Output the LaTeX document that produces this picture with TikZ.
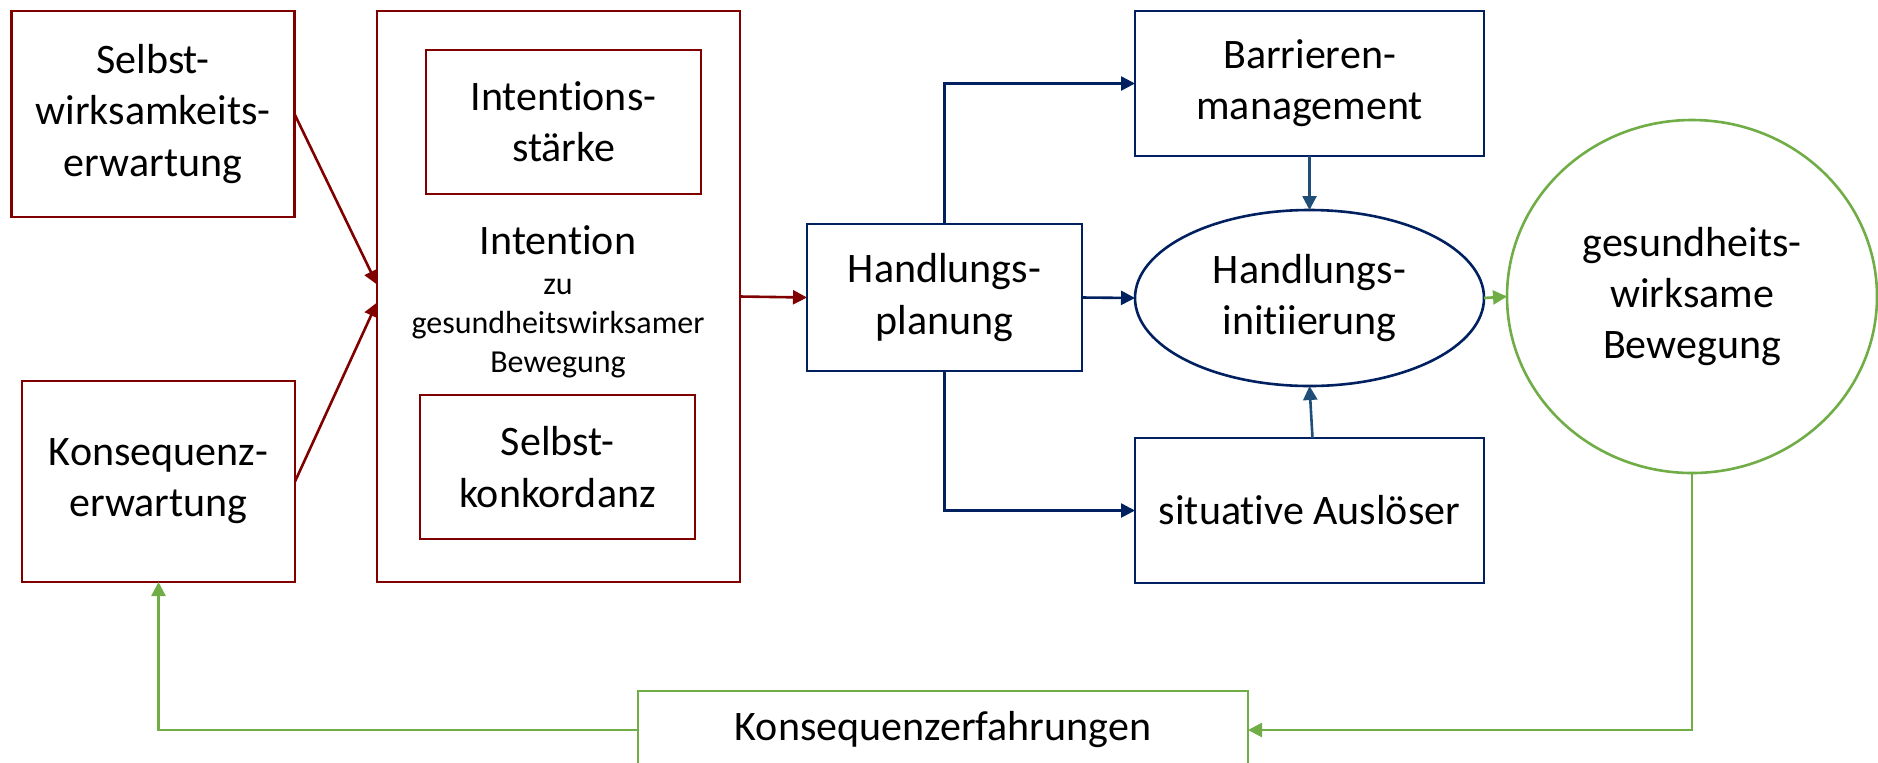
\documentclass[tikz,border=0pt]{standalone}
\usepackage{fontspec}
\setmainfont{Carlito}[Ligatures=NoCommon]
\usetikzlibrary{arrows.meta,shapes.geometric}
\definecolor{dred}{RGB}{128,0,0}
\definecolor{navy}{RGB}{0,32,96}
\definecolor{steel}{RGB}{31,78,121}
\definecolor{grn}{RGB}{112,173,71}
\tikzset{
  box/.style={draw, rectangle, line width=1.3pt, inner sep=0pt, outer sep=0pt, align=center,
    font=\fontsize{21}{25.6}\selectfont},
  redbox/.style={box, draw=dred},
  bluebox/.style={box, draw=navy},
  arr/.style={line width=1.3pt, -{Triangle[length=7pt,width=7pt]}},
  redarr/.style={arr, draw=dred},
  bluearr/.style={arr, draw=navy},
  steelarr/.style={arr, draw=steel},
  grnarr/.style={arr, draw=grn},
}
\begin{document}
\begin{tikzpicture}[x=0.5pt,y=-0.5pt]
\useasboundingbox (0,0) rectangle (1878,762);
% left column
\node[redbox, minimum width=141.5pt, minimum height=103pt] (A) at (153,114) {Selbst-\\wirksamkeits-\\erwartung};
\node[redbox, minimum width=136.5pt, minimum height=100.5pt] (B) at (158.5,481.5) {Konsequenz-\\erwartung};
% intention block
\node[redbox, minimum width=181.5pt, minimum height=285.5pt] (big) at (558.5,296.5) {};
\node[redbox, minimum width=137.5pt, minimum height=72pt] (IS) at (563.5,122) {Intentions-\\stärke};
\node[redbox, minimum width=137.5pt, minimum height=72pt] (SK) at (557.5,467) {Selbst-\\konkordanz};
\node[align=center, inner sep=0pt, font=\fontsize{21}{25.6}\selectfont] (int1) at (558,240) {Intention};
\node[align=center, inner sep=0pt, font=\fontsize{16}{19.5}\selectfont] (int2) at (558,329) {zu\\gesundheitswirksamer\\Bewegung};
% planning
\node[bluebox, minimum width=137.5pt, minimum height=73.5pt] (hp) at (944.5,297.5) {Handlungs-\\planung};
\node[bluebox, minimum width=174.5pt, minimum height=72.5pt] (bar) at (1309.5,83.5) {Barrieren-\\management};
\node[draw=navy, ellipse, line width=1.3pt, inner sep=0pt, outer sep=0pt, minimum width=174.5pt, minimum height=88pt, align=center, font=\fontsize{21}{25.6}\selectfont] (ell) at (1309.5,298) {Handlungs-\\initiierung};
\node[bluebox, minimum width=174.5pt, minimum height=72.5pt] (sit) at (1309.5,510.5) {situative Auslöser};
% outcome
\node[draw=grn, ellipse, line width=1.3pt, inner sep=0pt, outer sep=0pt, minimum width=185pt, minimum height=176.5pt, align=center, font=\fontsize{21}{25.6}\selectfont] (circ) at (1692,296.5) {gesundheits-\\wirksame\\Bewegung};
\node[box, draw=grn, minimum width=305pt, minimum height=39pt] (ke) at (943,730) {Konsequenzerfahrungen};
% connectors
\draw[redarr] (A.east) -- ([yshift=6pt]big.west);
\draw[redarr] (B.east) -- ([yshift=-3pt]big.west);
\draw[redarr] (big.east) -- (hp.west);
\draw[bluearr] (hp.north) |- (bar.west);
\draw[bluearr] (hp.east) -- (ell.west);
\draw[bluearr] (hp.south) |- (sit.west);
\draw[steelarr] (bar.south) -- (ell.north);
\draw[steelarr] ([xshift=1.5pt]sit.north) -- (ell.south);
\draw[grnarr] (ell.east) -- (circ.west);
\draw[grnarr] (circ.south) |- (ke.east);
\draw[grnarr] (ke.west) -| (B.south);
\end{tikzpicture}
\end{document}
